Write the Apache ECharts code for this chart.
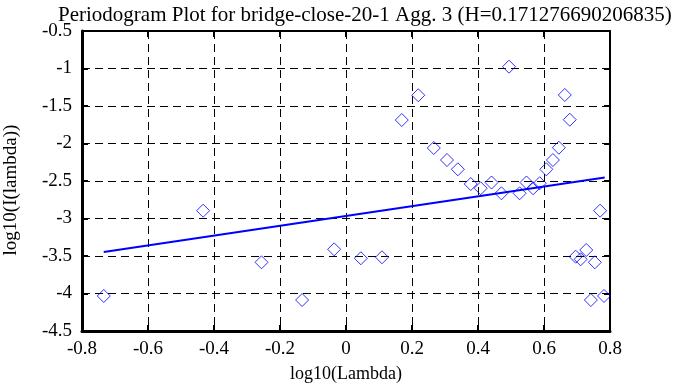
<!DOCTYPE html>
<html><head><meta charset="utf-8">
<script src="https://cdn.jsdelivr.net/npm/echarts@6/dist/echarts.min.js"></script>
<style>html,body{margin:0;padding:0;background:#fff}#c{width:688px;height:387px}</style>
</head><body><div id="c"></div>
<script>
var titleText = 'Periodogram Plot for bridge-close-20-1 Agg. 3 (H=0.171276690206835)';
var xName = 'log10(Lambda)';
var yName = 'log10(I(lambda))';
var xTicks = {min: -0.8, max: 0.8, interval: 0.2};
var yTicks = {min: -4.5, max: -0.5, interval: 0.5};
var pointX = [-0.734, -0.433, -0.256, -0.133, -0.036, 0.045, 0.109, 0.169, 0.219, 0.266, 0.306, 0.339,
  0.378, 0.408, 0.441, 0.471, 0.494, 0.526, 0.547, 0.567, 0.587, 0.607, 0.627, 0.645, 0.663, 0.678,
  0.696, 0.711, 0.728, 0.742, 0.754, 0.770, 0.782];
var pointY = [-4.033, -2.896, -3.584, -4.087, -3.411, -3.530, -3.517, -1.687, -1.357, -2.060, -2.220, -2.344,
  -2.540, -2.597, -2.520, -2.664, -0.976, -2.664, -2.520, -2.597, -2.530, -2.344, -2.220, -2.056, -1.353, -1.683,
  -3.509, -3.544, -3.420, -4.087, -3.584, -2.896, -4.033];
var fitX = [-0.734, 0.784];
var fitY = [-3.447, -2.452];

var pts = pointX.map(function(x, i){ return [x, pointY[i]]; });
var fit = fitX.map(function(x, i){ return [x, fitY[i]]; });
var font = 'Liberation Serif';
var chart = echarts.init(document.getElementById('c'), null, {renderer: 'canvas'});
var gridStyle = {show: true, lineStyle: {color: '#000', type: [8, 5], width: 1}};
var fmt = function(v){ return (Math.round(v*10)/10).toString(); };
chart.setOption({
  animation: false,
  backgroundColor: '#fff',
  title: {text: titleText, left: 53, top: 0,
    textStyle: {fontFamily: font, fontSize: 21, fontWeight: 'normal', color: '#000'}},
  grid: {left: 82, right: 78, top: 31, bottom: 56, containLabel: false, outerBoundsMode: 'none'},
  xAxis: [{
    type: 'value', min: xTicks.min, max: xTicks.max, interval: xTicks.interval, position: 'bottom',
    name: xName, nameLocation: 'middle', nameGap: 34,
    nameTextStyle: {fontFamily: font, fontSize: 18, color: '#000'},
    axisLine: {onZero: false, lineStyle: {color: '#000', width: 3}},
    axisTick: {inside: true, length: 6, lineStyle: {color: '#000', width: 2}},
    axisLabel: {fontFamily: font, fontSize: 19, color: '#000', margin: 9, formatter: fmt},
    splitLine: gridStyle
  }, {
    type: 'value', min: xTicks.min, max: xTicks.max, interval: xTicks.interval, position: 'top',
    axisLine: {onZero: false, lineStyle: {color: '#000', width: 2}},
    axisTick: {inside: true, length: 6, lineStyle: {color: '#000', width: 2}},
    axisLabel: {show: false}, splitLine: {show: false}
  }],
  yAxis: [{
    type: 'value', min: yTicks.min, max: yTicks.max, interval: yTicks.interval, position: 'left',
    name: yName, nameLocation: 'middle', nameGap: 61, nameRotate: 90,
    nameTextStyle: {fontFamily: font, fontSize: 19, color: '#000', padding: [0, 18, 0, 0]},
    axisLine: {onZero: false, lineStyle: {color: '#000', width: 3}},
    axisTick: {inside: true, length: 6, lineStyle: {color: '#000', width: 2}},
    axisLabel: {fontFamily: font, fontSize: 19, color: '#000', margin: 10, formatter: fmt},
    splitLine: gridStyle
  }, {
    type: 'value', min: yTicks.min, max: yTicks.max, interval: yTicks.interval, position: 'right',
    axisLine: {onZero: false, lineStyle: {color: '#000', width: 2}},
    axisTick: {inside: true, length: 6, lineStyle: {color: '#000', width: 2}},
    axisLabel: {show: false}, splitLine: {show: false}
  }],
  series: [{
    type: 'scatter', data: pts, symbol: 'diamond', symbolSize: 13,
    itemStyle: {color: 'transparent', borderColor: '#0000ff', borderWidth: 1}
  }, {
    type: 'line', data: fit, symbol: 'none',
    lineStyle: {color: '#0000ff', width: 2}
  }]
});
</script></body></html>
